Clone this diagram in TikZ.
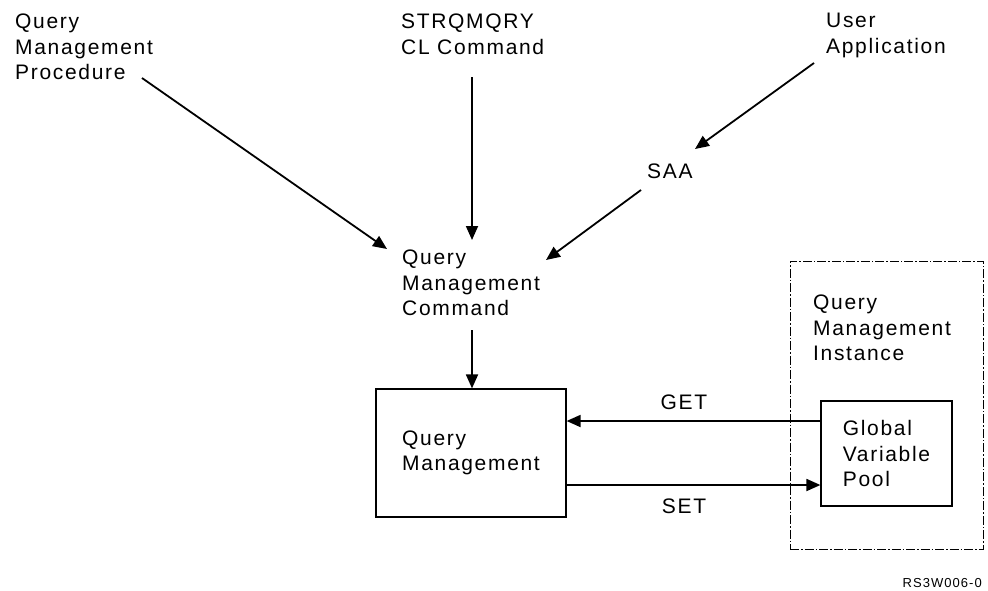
\documentclass[tikz,border=0pt]{standalone}
\usepackage{fontspec}
\setmainfont{Liberation Sans}[LetterSpace=8]
\usetikzlibrary{arrows.meta}
\begin{document}
\begin{tikzpicture}[x=1pt,y=-1pt,
  lbl/.style={inner sep=0pt,align=left,font=\fontsize{21}{25.5}\selectfont},
  boxnode/.style={draw,line width=1.2pt,inner sep=0pt,align=left,font=\fontsize{21}{25.5}\selectfont},
  arr/.style={line width=1.8pt,-{Triangle[length=14pt,width=12pt]}},
  dashdot/.style={line width=1pt,dash pattern=on 9pt off 2pt on 1.5pt off 2pt}]
\useasboundingbox (0,0) rectangle (988,590);
% text labels
\node[lbl,anchor=north west] (proc) at (15,14) {Query\\Management\\Procedure};
\node[lbl,anchor=north west] (strq) at (401,14) {STRQMQRY\\CL Command};
\node[lbl,anchor=north west] (user) at (826,13) {User\\Application};
\node[lbl,anchor=north west] (saa) at (647,164) {SAA};
\node[lbl,anchor=north west] (qmc) at (402,250) {Query\\Management\\Command};
% boxes
\node[boxnode,minimum width=190pt,minimum height=128pt] (qm) at (471,453) {Query\\Management};
\node[draw,dashdot,minimum width=193pt,minimum height=288pt,inner sep=0pt] (inst) at (886.5,405) {};
\node[lbl,anchor=north west] (qmi) at (813,295) {Query\\Management\\Instance};
\node[boxnode,minimum width=131pt,minimum height=105pt] (gvp) at (886.5,453.5) {Global\\Variable\\Pool};
\node[lbl,anchor=north] (getl) at (684,395) {GET};
\node[lbl,anchor=north] (setl) at (684,499) {SET};
\node[inner sep=0pt,anchor=north east,font=\fontsize{13}{15}\selectfont] (ref) at (982,578) {RS3W006-0};
% connector end points
\coordinate (procS) at (142,78);
\coordinate (qmcA) at (387,249);
\coordinate (strqS) at (472,77);
\coordinate (qmcB) at (472,240);
\coordinate (userS) at (814,63);
\coordinate (saaT) at (695,149);
\coordinate (saaS) at (641,190);
\coordinate (qmcC) at (546,260);
\coordinate (qmcD) at (472,330);
\coordinate (getY) at (0,421);
\coordinate (setY) at (0,485);
% connectors
\draw[arr] (procS) -- (qmcA);
\draw[arr] (strqS) -- (qmcB);
\draw[arr] (userS) -- (saaT);
\draw[arr] (saaS) -- (qmcC);
\draw[arr] (qmcD) -- (qmcD |- qm.north);
\draw[arr] (gvp.west |- getY) -- (qm.east |- getY);
\draw[arr] (qm.east |- setY) -- (gvp.west |- setY);
\end{tikzpicture}
\end{document}
